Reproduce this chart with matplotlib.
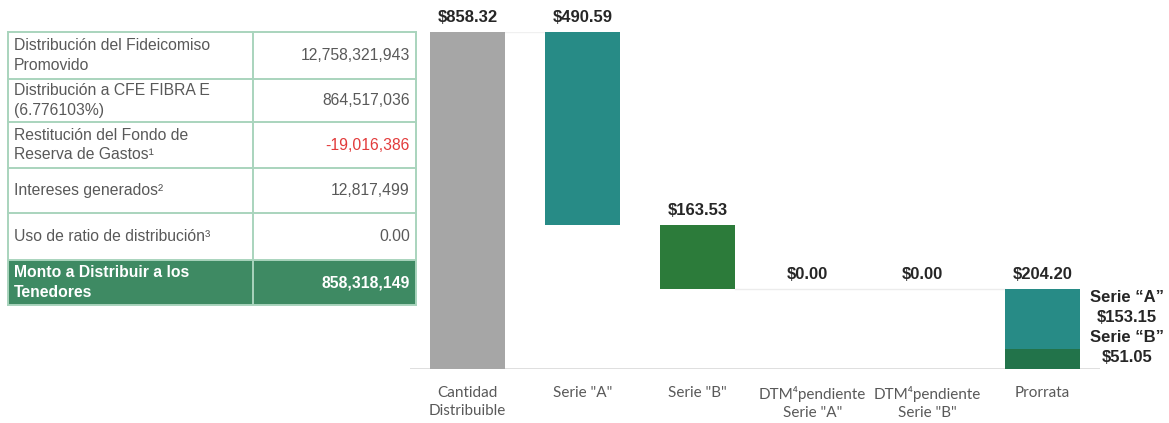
import matplotlib
matplotlib.use("Agg")
import matplotlib.pyplot as plt
from matplotlib.patches import Rectangle

# ---------------- data ----------------
categories = ['Cantidad\nDistribuible', 'Serie "A"', 'Serie "B"',
              'DTM⁴pendiente\nSerie "A"', 'DTM⁴pendiente\nSerie "B"', 'Prorrata']
total_value = 858.32
step_values = [490.59, 163.53, 0.00, 0.00]      # Serie A, Serie B, DTM A, DTM B
prorrata_a = 153.15
prorrata_b = 51.05
bar_labels = ['$858.32', '$490.59', '$163.53', '$0.00', '$0.00', '$204.20']
side_labels = ['Serie “A”', '$153.15', 'Serie “B”', '$51.05']

table_labels = ['Distribución del Fideicomiso\nPromovido',
                'Distribución a CFE FIBRA E\n(6.776103%)',
                'Restitución del Fondo de\nReserva de Gastos¹',
                'Intereses generados²',
                'Uso de ratio de distribución³',
                'Monto a Distribuir a los\nTenedores']
table_values = ['12,758,321,943', '864,517,036', '-19,016,386',
                '12,817,499', '0.00', '858,318,149']

# ---------------- style ----------------
GRAY_BAR = '#a6a6a6'
TEAL = '#278b86'
GREEN_B = '#2c7b3a'
GREEN_PR = '#22734a'
TXT_GRAY = '#595959'
BORDER = '#a9d4bd'
TOTAL_BG = '#3e8a63'
RED = '#e23b3b'

W, H = 1169, 423
fig = plt.figure(figsize=(W / 100, H / 100), dpi=100)

# ---------------- table (pixel-coordinate axes) ----------------
tax = fig.add_axes([0, 0, 1, 1])
tax.set_xlim(0, W)
tax.set_ylim(H, 0)
tax.axis('off')

x0, xm, x1 = 8, 253, 416
row_edges = [32, 79, 122, 168, 213, 260, 305]
for i, (lab, val) in enumerate(zip(table_labels, table_values)):
    top, bot = row_edges[i], row_edges[i + 1]
    last = i == len(table_labels) - 1
    if last:
        tax.add_patch(Rectangle((x0, top), x1 - x0, bot - top,
                                facecolor=TOTAL_BG, edgecolor='none', zorder=1))
    yc = (top + bot) / 2
    color = 'white' if last else TXT_GRAY
    weight = 'bold' if last else 'normal'
    tax.text(x0 + 6, yc, lab, ha='left', va='center', fontsize=11.3,
             color=color, fontweight=weight, family='Liberation Sans',
             linespacing=1.35)
    vcolor = 'white' if last else (RED if val.startswith('-') else TXT_GRAY)
    tax.text(x1 - 6, yc, val, ha='right', va='center', fontsize=11.3,
             color=vcolor, fontweight=weight, family='Liberation Sans')

for y in row_edges:
    tax.plot([x0, x1], [y, y], color=BORDER, lw=1.4, zorder=2)
for x in (x0, xm, x1):
    tax.plot([x, x], [row_edges[0], row_edges[-1]], color=BORDER, lw=1.4, zorder=2)

# ---------------- waterfall chart ----------------
ax_left, ax_right = 410, 1100
ax_top, ax_bot = 32, 369
ax = fig.add_axes([ax_left / W, (H - ax_bot) / H,
                   (ax_right - ax_left) / W, (ax_bot - ax_top) / H])
ax.set_xlim(-0.5, 5.5)
ax.set_ylim(0, total_value)
ax.patch.set_alpha(0)
for s in ax.spines.values():
    s.set_visible(False)
ax.set_yticks([])
bw = 0.65

# Cantidad distribuible
ax.bar(0, total_value, width=bw, color=GRAY_BAR, zorder=3)
# steps
step_colors = [TEAL, GREEN_B, TEAL, GREEN_B]
level = total_value
tops = [total_value]
for i, v in enumerate(step_values):
    ax.bar(i + 1, v, bottom=level - v, width=bw, color=step_colors[i], zorder=3)
    tops.append(level)
    level -= v
# faint connectors
ax.plot([bw / 2, 1 - bw / 2], [total_value, total_value], color='#f0f0f0', lw=1, zorder=1)
ax.plot([2 + bw / 2, 5 - bw / 2], [level, level], color='#ececec', lw=1, zorder=1)
# Prorrata stacked
ax.bar(5, prorrata_b, width=bw, color=GREEN_PR, zorder=3)
ax.bar(5, prorrata_a, bottom=prorrata_b, width=bw, color=TEAL, zorder=3)
tops.append(prorrata_a + prorrata_b)

ax.axhline(0, color='#d9d9d9', lw=1.2, zorder=2)

for i, (t, lab) in enumerate(zip(tops, bar_labels)):
    dx = -4 if i in (3, 4) else 0
    ax.annotate(lab, (i, t), xytext=(dx, 5), textcoords='offset points',
                ha='center', va='bottom', fontsize=12, fontweight='bold',
                color='#262626', family='Liberation Sans')

# side labels for prorrata
side_y = [298, 318, 338, 358]
for lab, py in zip(side_labels, side_y):
    tax.text(1127, py, lab, ha='center', va='center', fontsize=12,
             fontweight='bold', color='#262626', family='Liberation Sans')

ax.set_xticks(range(len(categories)))
ax.set_xticklabels(categories, fontsize=11, color=TXT_GRAY,
                   family=['Lato', 'DejaVu Sans'], linespacing=1.35)
ax.tick_params(axis='x', length=0, pad=12)

fig.savefig('out.png', dpi=100)
